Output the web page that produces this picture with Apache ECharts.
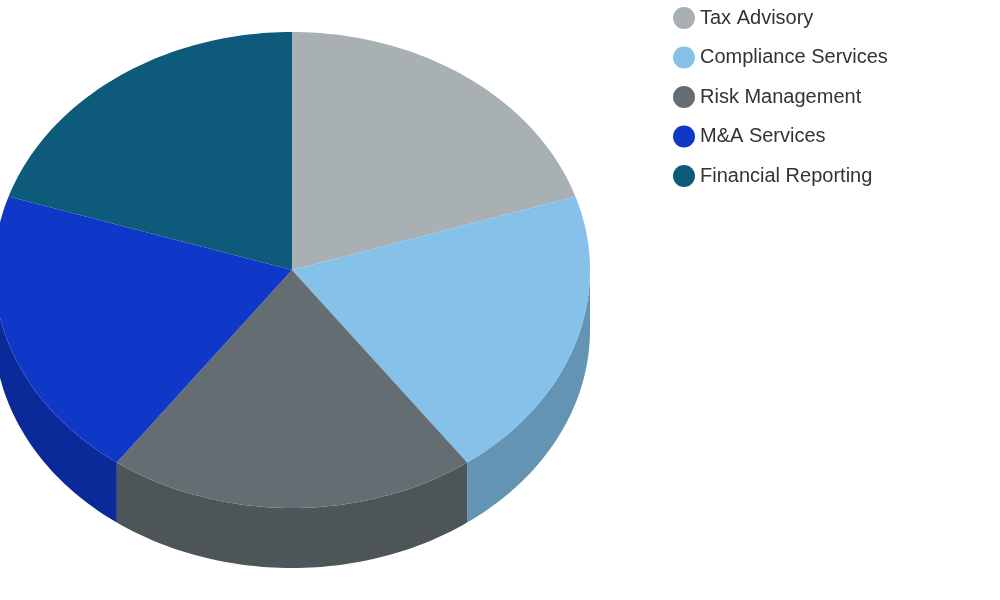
<!DOCTYPE html>
<html><head><meta charset="utf-8">
<script src="https://cdn.jsdelivr.net/npm/echarts@6/dist/echarts.min.js"></script>
<style>html,body{margin:0;padding:0;background:#fff}#c{width:1000px;height:600px}</style>
</head><body><div id="c"></div>
<script>
const categories = ["Tax Advisory","Compliance Services","Risk Management","M&A Services","Financial Reporting"];
const values = [20,20,20,20,20];
const topColors = ["#a9b0b4","#85c1e9","#646e72","#0f37c8","#0e5a7b"];
const sideColors = ["#7f8588","#6494b4","#4d5558","#0b2a9a","#0a4560"];

const total = values.reduce((a,b)=>a+b,0);
function makeRender(i){
  return function(params, api){
    const cx = 292, cy = 270, rx = 298, ry = 238, depth = 60;
    let before = 0; for (let k=0;k<i;k++) before += values[k];
    const a0 = 90 - before/total*360, a1 = a0 - values[i]/total*360;
    const pt = (deg, dy)=>{const t=deg*Math.PI/180;return [cx+rx*Math.cos(t), cy - ry*Math.sin(t) + (dy||0)];};
    const top = [[cx,cy]];
    const n = 60;
    for (let s=0;s<=n;s++) top.push(pt(a0+(a1-a0)*s/n));
    const children = [];
    // side: front part where sin<0 (angles between -180 and 0 mod 360)
    const arcs = [];
    let cur = [];
    for (let s=0;s<=n;s++){
      const d = a0+(a1-a0)*s/n;
      if (Math.sin(d*Math.PI/180) <= 0.0001) cur.push(d); else if (cur.length){arcs.push(cur);cur=[];}
    }
    if (cur.length) arcs.push(cur);
    arcs.forEach(arc=>{
      if (arc.length<2) return;
      const poly = arc.map(d=>pt(d,0)).concat(arc.slice().reverse().map(d=>pt(d,depth)));
      children.push({type:'polygon',shape:{points:poly},style:{fill:sideColors[i]}});
    });
    children.push({type:'polygon',shape:{points:top},style:{fill:topColors[i]}});
    return {type:'group',children};
  };
}
const chart = echarts.init(document.getElementById('c'));
chart.setOption({
  animation:false,
  color: topColors,
  legend:{orient:'vertical',left:668,top:2,icon:'circle',itemWidth:22,itemHeight:22,itemGap:17.5,
    textStyle:{fontSize:20,color:'#333',fontFamily:'Liberation Sans, Arial, sans-serif'},data:categories},
  series: categories.map((name,i)=>({
    type:'custom',name,coordinateSystem:'none',renderItem:makeRender(i),
    data:[values[i]],itemStyle:{color:topColors[i]}
  }))
});
</script></body></html>
